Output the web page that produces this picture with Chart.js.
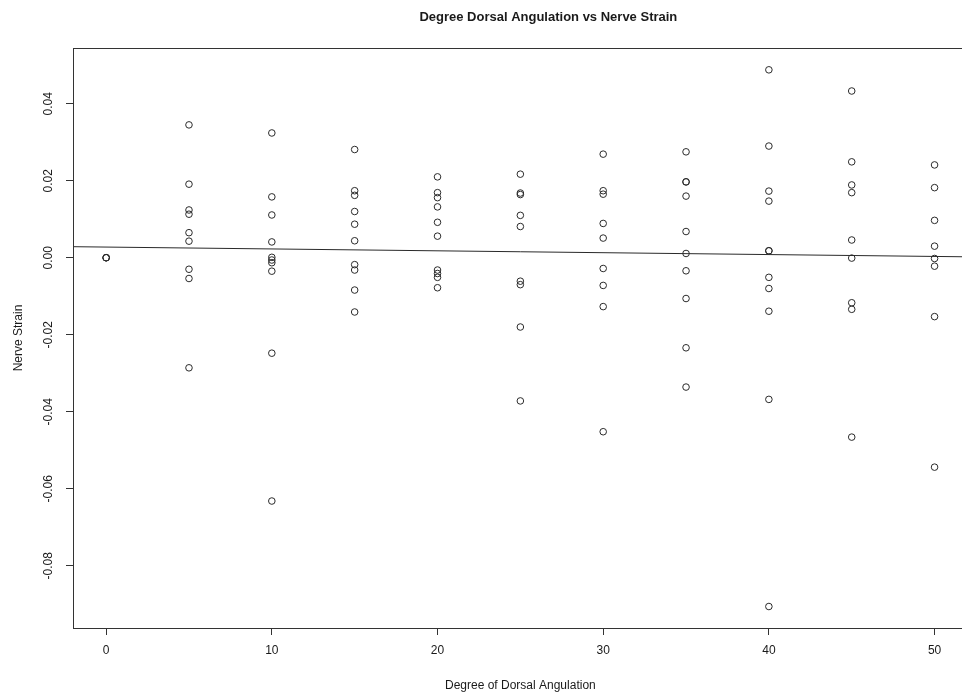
<!DOCTYPE html>
<html>
<head>
<meta charset="utf-8">
<script src="https://cdn.jsdelivr.net/npm/chart.js@4.4.1/dist/chart.umd.min.js"></script>
<style>
  html, body { margin: 0; padding: 0; background: #fff; overflow: hidden; }
  #wrap { position: absolute; left: 0; top: 0; width: 972px; height: 694px; }
</style>
</head>
<body>
<div id="wrap"><canvas id="chart"></canvas></div>
<script>
// --- data ---
const chartTitle = "Degree Dorsal Angulation vs Nerve Strain";
const xTitle = "Degree of Dorsal Angulation";
const yTitle = "Nerve Strain";

const angles = [0, 5, 10, 15, 20, 25, 30, 35, 40, 45, 50];
const strain0 = [0.0, 0.0, 0.0];
const strain5 = [0.0345, 0.0191, 0.0124, 0.0113, 0.0065, 0.0043, -0.0030, -0.0054, -0.0286];
const strain10 = [0.0324, 0.0158, 0.0111, 0.0041, 0.0001, -0.0006, -0.0013, -0.0035, -0.0248, -0.0632];
const strain15 = [0.0281, 0.0174, 0.0162, 0.0120, 0.0087, 0.0044, -0.0018, -0.0032, -0.0084, -0.0141];
const strain20 = [0.0210, 0.0169, 0.0156, 0.0132, 0.0092, 0.0056, -0.0032, -0.0041, -0.0051, -0.0078];
const strain25 = [0.0217, 0.0168, 0.0164, 0.0110, 0.0081, -0.0061, -0.0070, -0.0180, -0.0372];
const strain30 = [0.0269, 0.0174, 0.0165, 0.0089, 0.0051, -0.0028, -0.0072, -0.0127, -0.0452];
const strain35 = [0.0275, 0.0197, 0.0197, 0.0160, 0.0068, 0.0011, -0.0034, -0.0106, -0.0234, -0.0336];
const strain40 = [0.0488, 0.0290, 0.0173, 0.0147, 0.0018, 0.0018, -0.0051, -0.0080, -0.0139, -0.0368, -0.0906];
const strain45 = [0.0433, 0.0249, 0.0189, 0.0169, 0.0046, -0.0001, -0.0117, -0.0134, -0.0466];
const strain50 = [0.0241, 0.0182, 0.0097, 0.0030, -0.0002, -0.0022, -0.0153, -0.0544];
const strainByAngle = [strain0, strain5, strain10, strain15, strain20, strain25,
  strain30, strain35, strain40, strain45, strain50];

// fitted line, ends at the plot edges
const fitX = [-2, 52];
const fitY = [0.00286, 0.00023];

const xMin = -2, xMax = 52;
const yMin = -0.09618, yMax = 0.05447;

// --- points ---
const points = [];
angles.forEach((a, i) => {
  strainByAngle[i].forEach((s) => points.push({ x: a, y: s }));
});
const fitLine = fitX.map((x, i) => ({ x: x, y: fitY[i] }));

const FONT = "'Liberation Sans', Arial, Helvetica, sans-serif";
const INK = "#1a1a1a";

// frame around the plot + main title (R style)
const boxPlugin = {
  id: "box",
  afterDraw(chart) {
    const { ctx, chartArea: a } = chart;
    ctx.save();
    ctx.strokeStyle = "#333";
    ctx.lineWidth = 1;
    ctx.strokeRect(a.left + 0.5, a.top + 0.5, a.right - a.left, a.bottom - a.top);
    ctx.fillStyle = INK;
    ctx.font = "bold 13px " + FONT;
    ctx.textAlign = "center";
    ctx.textBaseline = "middle";
    ctx.fillText(chartTitle, (a.left + a.right) / 2 + 28, 17);
    ctx.restore();
  },
};

new Chart(document.getElementById("chart"), {
  type: "scatter",
  data: {
    datasets: [
      {
        label: "strain",
        data: points,
        pointStyle: "circle",
        pointRadius: 3.3,
        pointHoverRadius: 3.3,
        pointBorderWidth: 1,
        pointBorderColor: "#2a2a2a",
        pointBackgroundColor: "rgba(0,0,0,0)",
      },
      {
        label: "fit",
        type: "line",
        data: fitLine,
        borderColor: "#2a2a2a",
        borderWidth: 1,
        pointRadius: 0,
        fill: false,
      },
    ],
  },
  options: {
    responsive: true,
    maintainAspectRatio: false,
    animation: false,
    layout: { padding: { left: 0, right: 1, top: 48, bottom: 0 } },
    plugins: {
      legend: { display: false },
      tooltip: { enabled: false },
      title: { display: false },
    },
    scales: {
      x: {
        type: "linear",
        min: xMin,
        max: xMax,
        afterFit: (s) => { s.height = 66; },
        border: { display: true, color: "#333", width: 1 },
        grid: { display: true, drawOnChartArea: false, drawTicks: true, tickLength: 7, color: "#333" },
        ticks: {
          stepSize: 10,
          includeBounds: false,
          padding: 8,
          color: INK,
          font: { family: FONT, size: 12 },
          maxRotation: 0,
          callback: (v) => v.toFixed(0),
        },
        title: {
          display: true,
          text: xTitle,
          color: INK,
          font: { family: FONT, size: 12 },
          padding: { top: 0, bottom: 1 },
        },
      },
      y: {
        type: "linear",
        min: yMin,
        max: yMax,
        afterFit: (s) => { s.width = 73; },
        border: { display: true, color: "#333", width: 1 },
        grid: { display: true, drawOnChartArea: false, drawTicks: true, tickLength: 7, color: "#333" },
        ticks: {
          stepSize: 0.02,
          includeBounds: false,
          padding: 4,
          minRotation: 90,
          maxRotation: 90,
          crossAlign: "center",
          color: INK,
          font: { family: FONT, size: 12 },
          callback: (v) => (Math.abs(v) < 1e-9 ? 0 : v).toFixed(2),
        },
        title: {
          display: true,
          text: yTitle,
          color: INK,
          font: { family: FONT, size: 12 },
          padding: { top: 11, bottom: 0 },
        },
      },
    },
  },
  plugins: [boxPlugin],
});
</script>
</body>
</html>
